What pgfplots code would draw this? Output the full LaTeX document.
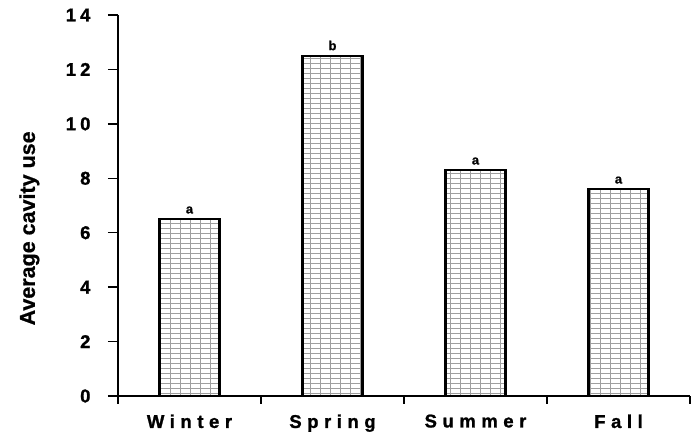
\documentclass[border=0pt]{standalone}
\usepackage{pgfplots}
\pgfplotsset{compat=1.18}
\usepackage{fontspec}
\setmainfont{Liberation Sans}
\newfontfamily\spaced[LetterSpace=30,FakeBold=1.2]{Liberation Sans Bold}
\newfontfamily\numspaced[LetterSpace=22,FakeBold=1.2]{Liberation Sans Bold}
\newfontfamily\heavy[FakeBold=0.8]{Liberation Sans Bold}
\usetikzlibrary{patterns}
\pgfdeclarepatternformonly{mygrid}{\pgfqpoint{-1pt}{-1pt}}{\pgfqpoint{11pt}{6pt}}{\pgfqpoint{10pt}{5pt}}{%
  \pgfsetlinewidth{0.6pt}%
  \pgfpathmoveto{\pgfqpoint{0pt}{-0.5pt}}\pgfpathlineto{\pgfqpoint{0pt}{5.5pt}}%
  \pgfpathmoveto{\pgfqpoint{-0.5pt}{0pt}}\pgfpathlineto{\pgfqpoint{10.5pt}{0pt}}%
  \pgfusepath{stroke}}
\begin{document}
\begin{tikzpicture}
\path[use as bounding box] (0,0) rectangle (699pt,438pt);
\begin{axis}[
  at={(118pt,42pt)}, anchor=south west,
  scale only axis, width=572pt, height=381pt,
  xmin=-0.5, xmax=3.5, ymin=0, ymax=14,
  axis lines*=left,
  axis line style={line width=1.8pt},
  tick align=outside,
  major tick length=10pt, minor tick length=8pt,
  /pgf/number format/assume math mode=true,
  ytick={0,2,4,6,8,10,12,14},
  xtick={0,1,2,3},
  xticklabels={Winter,Spring,Summer,Fall},
  minor xtick={-0.5,0.5,1.5,2.5,3.5},
  major x tick style={draw=none},
  minor x tick style={line width=1.5pt, black},
  major y tick style={line width=1.5pt, black},
  yticklabel style={font=\fontsize{18.5}{20}\numspaced, xshift=-14pt},
  xticklabel style={font=\fontsize{18.5}{20}\spaced, yshift=-5pt},
  ylabel={Average cavity use},
  ylabel style={font=\fontsize{21.5}{23}\heavy, at={(axis description cs:-0.155,0.44)}, anchor=center, rotate=0},
  ybar, bar width=60pt,
  nodes near coords,
  point meta=explicit symbolic,
  every node near coord/.append style={font=\fontsize{13}{14}\heavy, yshift=1pt},
  clip=false,
]
\addplot[draw=black, line width=2.4pt, pattern=mygrid, pattern color=gray!75]
  table[x=x, y=y, meta=lab] {
x y lab
0 6.5 a
1 12.5 b
2 8.3 a
3 7.6 a
};
\end{axis}
\end{tikzpicture}
\end{document}
